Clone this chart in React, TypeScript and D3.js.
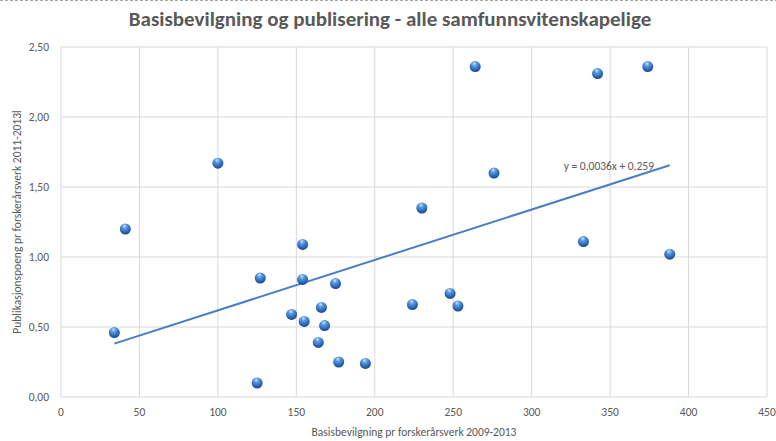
import React from "react";
import * as d3 from "d3";

// basisbevilgning (x) og publikasjonspoeng (y) per enhet
const xValues = [34, 41, 100, 125, 127, 147, 154, 154, 155, 164, 166, 168, 175, 177, 194, 224, 230, 248, 253, 264, 276, 333, 342, 374, 388];
const yValues = [0.46, 1.2, 1.67, 0.1, 0.85, 0.59, 1.09, 0.84, 0.54, 0.39, 0.64, 0.51, 0.81, 0.25, 0.24, 0.66, 1.35, 0.74, 0.65, 2.36, 1.6, 1.11, 2.31, 2.36, 1.02];

const xTicks = [0, 50, 100, 150, 200, 250, 300, 350, 400, 450];
const yTicks = [0, 0.5, 1, 1.5, 2, 2.5];

const trendSlope = 0.0036;
const trendIntercept = 0.259;
const trendLabel = "y = 0,0036x + 0,259";

const title = "Basisbevilgning og publisering - alle samfunnsvitenskapelige";
const xTitle = "Basisbevilgning pr forskerårsverk 2009-2013";
const yTitle = "Publikasjonspoeng pr forskerårsverk 2011-2013l";

const W = 776;
const H = 441;
const m = { left: 61, right: 9, top: 47, bottom: 44 };
const font = "Carlito, 'Liberation Sans Narrow', 'Open Sans', sans-serif";
const grey = "#595959";

export default function App() {
    const x = d3.scaleLinear().domain([0, 450]).range([m.left, W - m.right]);
    const y = d3.scaleLinear().domain([0, 2.5]).range([H - m.bottom, m.top]);
    const fmt = (v: number) => d3.format(".2f")(v).replace(".", ",");

    const xMin = d3.min(xValues) as number;
    const xMax = d3.max(xValues) as number;
    const trend = d3.line<number>()
        .x(d => x(d))
        .y(d => y(trendSlope * d + trendIntercept));

    return (
        <svg width={W} height={H} style={{ position: "absolute", left: 0, top: 0, background: "#fff" }}>
            <defs>
                <radialGradient id="ball" cx="0.45" cy="0.3" r="0.7" fx="0.42" fy="0.22">
                    <stop offset="0" stopColor="#d2e4fb" />
                    <stop offset="0.3" stopColor="#5b9be0" />
                    <stop offset="0.75" stopColor="#2a64b4" />
                    <stop offset="1" stopColor="#1b4682" />
                </radialGradient>
            </defs>
            <line x1={0} x2={W} y1={0.5} y2={0.5} stroke="#a6a6a6" strokeDasharray="3,2" />
            <text x={390} y={26} textAnchor="middle" fontFamily={font} fontWeight="bold" fontSize={21} fill={grey}>{title}</text>

            {xTicks.map(t => (
                <line key={"gx" + t} x1={x(t)} x2={x(t)} y1={y(0)} y2={y(2.5)} stroke="#d9d9d9" />
            ))}
            {yTicks.map(t => (
                <line key={"gy" + t} x1={x(0)} x2={x(450)} y1={y(t)} y2={y(t)} stroke="#d9d9d9" />
            ))}

            {yTicks.map(t => (
                <text key={"ty" + t} x={x(0) - 12} y={y(t) + 4} textAnchor="end" fontFamily={font} fontSize={11.5} fill={grey}>{fmt(t)}</text>
            ))}
            {xTicks.map(t => (
                <text key={"tx" + t} x={x(t)} y={y(0) + 19} textAnchor="middle" fontFamily={font} fontSize={11.5} fill={grey}>{t}</text>
            ))}

            <text x={x(225)} y={436} textAnchor="middle" fontFamily={font} fontSize={11.5} fill={grey}>{xTitle}</text>
            <text transform={`translate(21,${(y(0) + y(2.5)) / 2}) rotate(-90)`} textAnchor="middle" fontFamily={font} fontSize={11.5} fill={grey}>{yTitle}</text>

            <path d={trend([xMin, xMax]) ?? ""} fill="none" stroke="#4a7ec4" strokeWidth={2} />

            {xValues.map((v, i) => (
                <circle key={"p" + i} cx={x(v)} cy={y(yValues[i])} r={5.5} fill="url(#ball)" />
            ))}

            <text x={x(xMax) - 106} y={y(trendSlope * xMax + trendIntercept) + 5} fontFamily={font} fontSize={11.5} fill={grey}>{trendLabel}</text>
        </svg>
    );
}
